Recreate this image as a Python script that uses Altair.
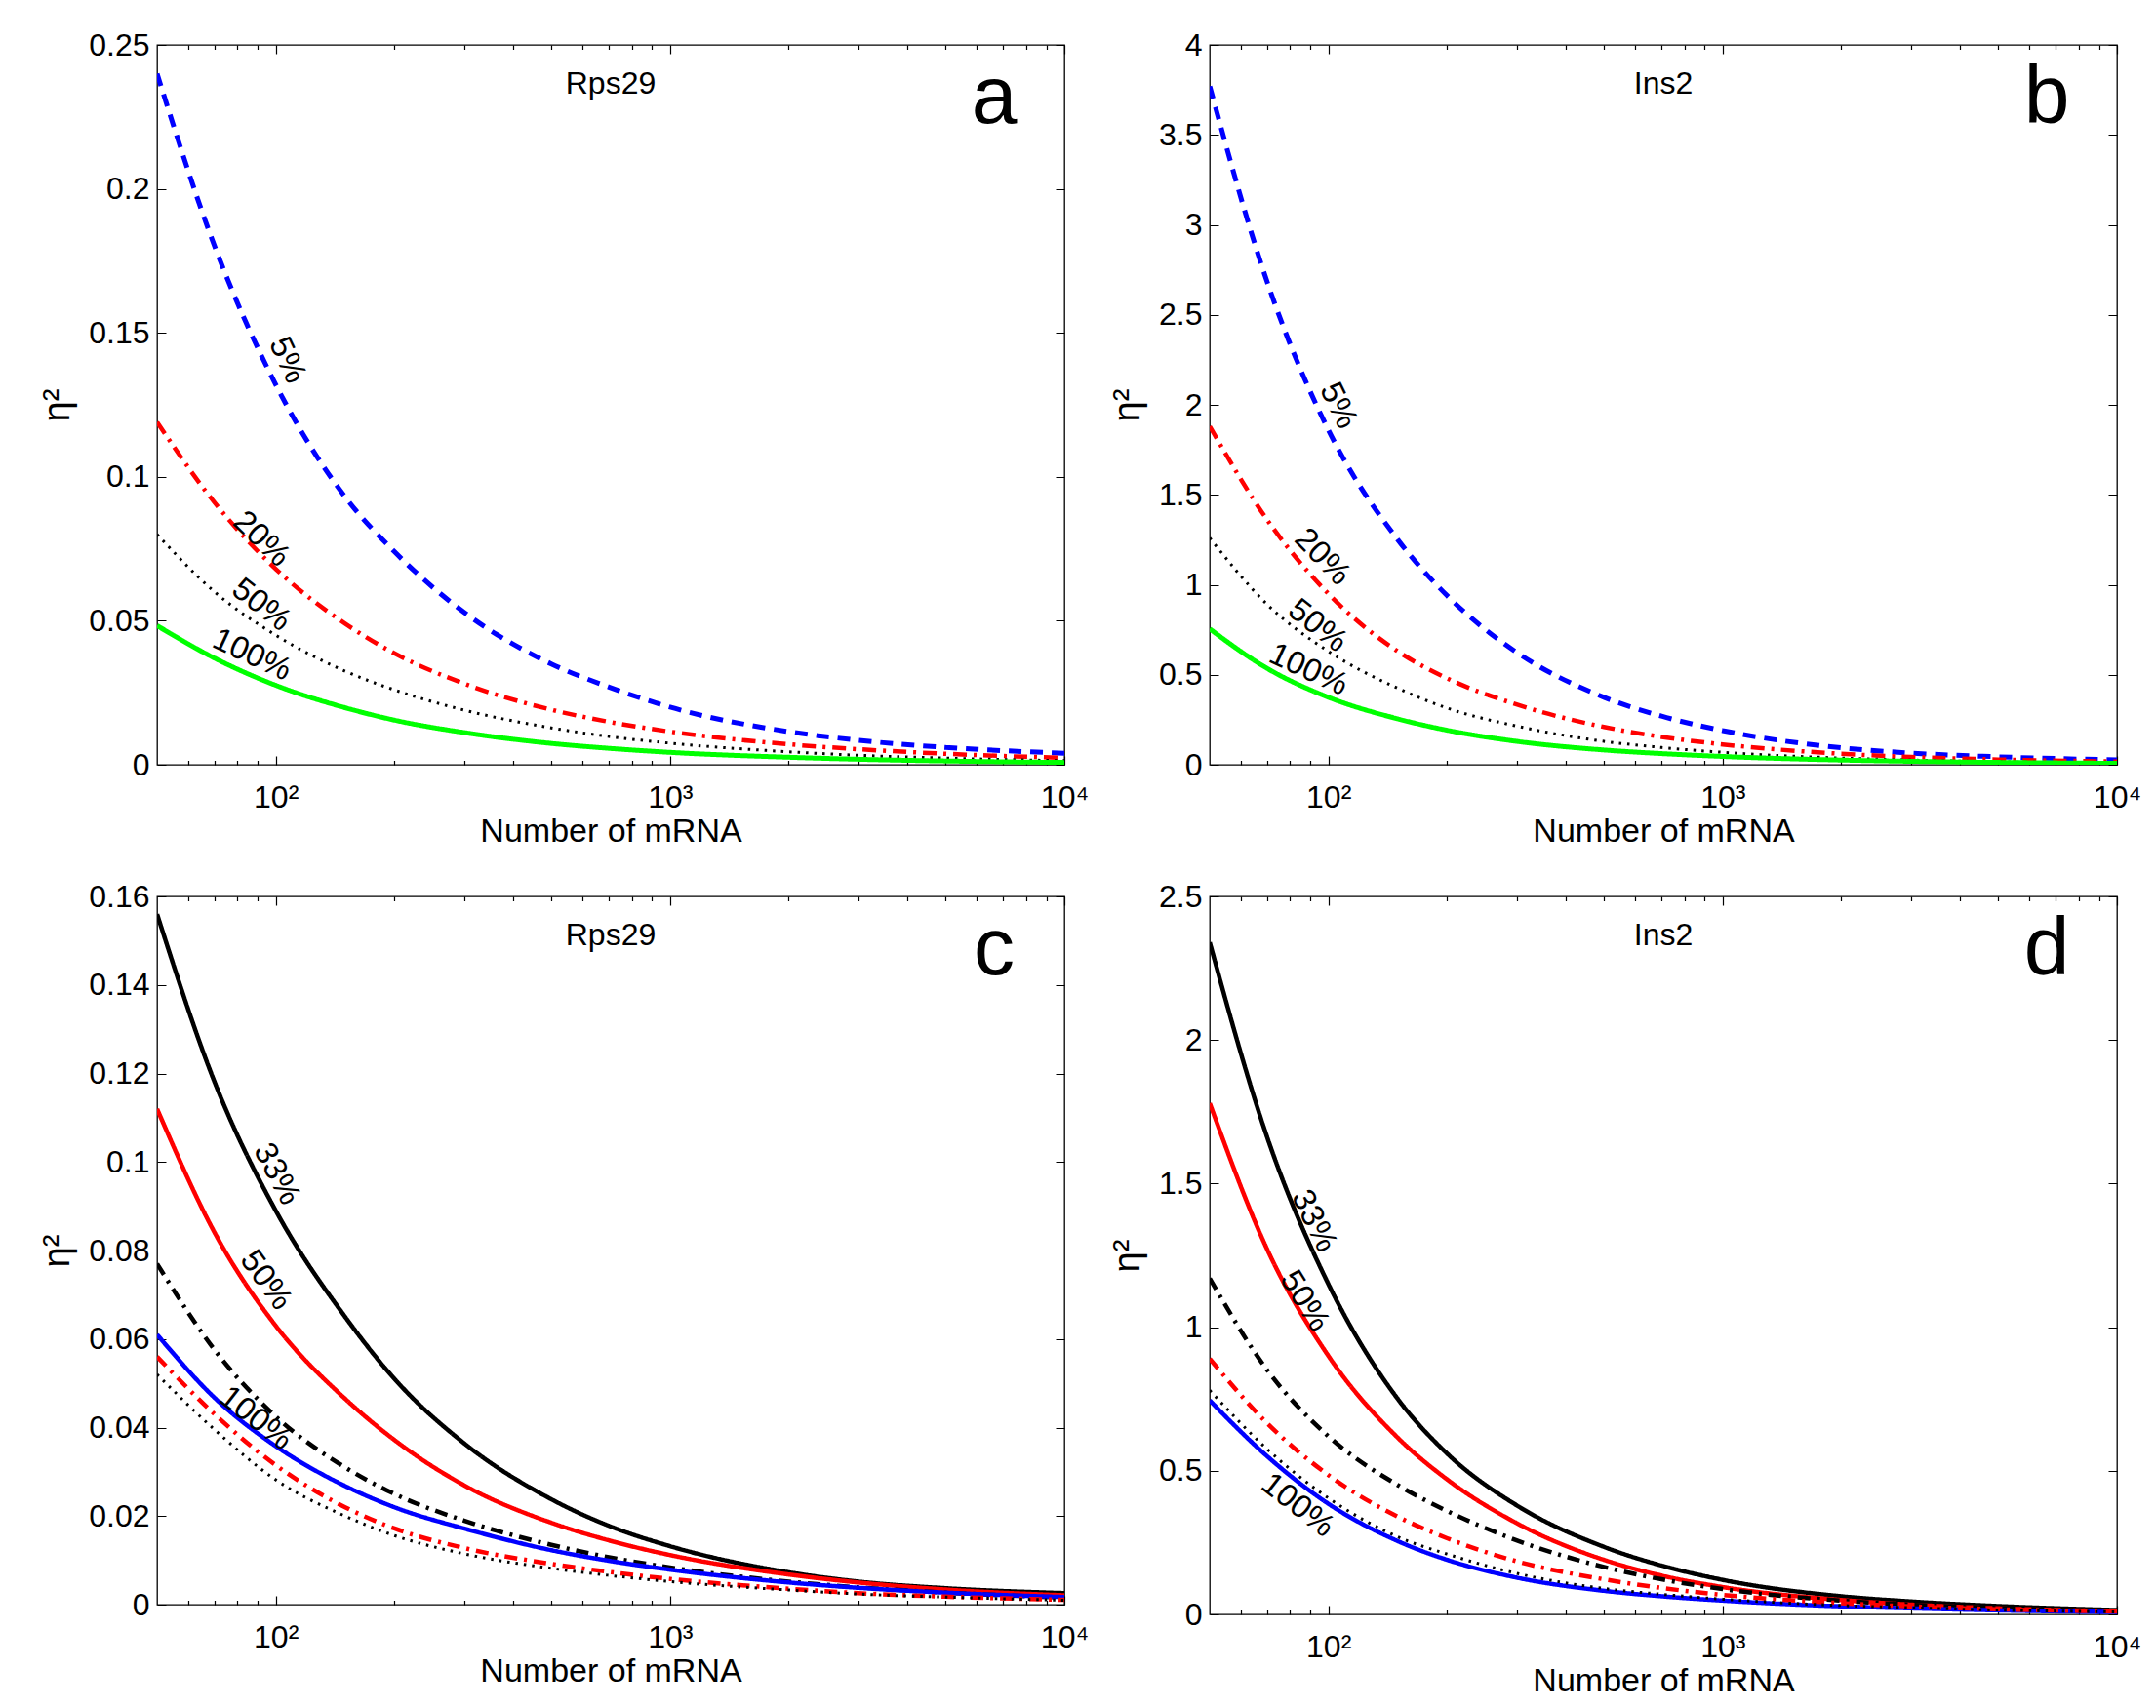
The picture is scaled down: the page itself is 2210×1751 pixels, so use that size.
import altair as alt
import pandas as pd

FONT = "Liberation Sans"

# ---------------- data ----------------
N_MRNA = [50, 70, 100, 150, 200, 300, 500, 700, 1000, 2000, 3000, 5000, 10000]

# panel a  (Rps29)
A_5 = [0.240, 0.180, 0.132, 0.093, 0.074, 0.053, 0.035, 0.027, 0.020, 0.0115, 0.0085, 0.0060, 0.0040]
A_20 = [0.119, 0.091, 0.068, 0.049, 0.0387, 0.0282, 0.0191, 0.0149, 0.0115, 0.0071, 0.0054, 0.0038, 0.0024]
A_50 = [0.080, 0.060, 0.045, 0.0325, 0.026, 0.019, 0.0128, 0.0098, 0.0075, 0.0045, 0.0033, 0.0023, 0.0014]
A_100 = [0.0483, 0.037, 0.0276, 0.0198, 0.0155, 0.0112, 0.0074, 0.0057, 0.0043, 0.0026, 0.0019, 0.0013, 0.0008]

# panel b  (Ins2)
B_5 = [3.77, 2.68, 1.86, 1.25, 0.94, 0.625, 0.375, 0.27, 0.19, 0.094, 0.065, 0.044, 0.027]
B_20 = [1.88, 1.36, 0.95, 0.63, 0.48, 0.335, 0.21, 0.155, 0.113, 0.061, 0.043, 0.029, 0.018]
B_50 = [1.26, 0.89, 0.63, 0.425, 0.315, 0.215, 0.13, 0.096, 0.069, 0.037, 0.026, 0.017, 0.010]
B_100 = [0.755, 0.535, 0.375, 0.255, 0.192, 0.13, 0.082, 0.062, 0.046, 0.026, 0.019, 0.013, 0.008]

# panel c  (Rps29)
C_33 = [0.156, 0.118, 0.089, 0.065, 0.051, 0.0365, 0.0238, 0.0178, 0.0132, 0.0073, 0.0052, 0.0037, 0.0026]
C_50 = [0.112, 0.084, 0.063, 0.0465, 0.0372, 0.027, 0.0185, 0.0145, 0.0112, 0.0068, 0.0050, 0.0034, 0.0021]
C_DASHDOT_BLACK = [0.077, 0.0575, 0.0425, 0.031, 0.025, 0.019, 0.0135, 0.0107, 0.0084, 0.0052, 0.0039, 0.0027, 0.0016]
C_100 = [0.061, 0.0467, 0.0358, 0.0268, 0.022, 0.0172, 0.0123, 0.0099, 0.0079, 0.0050, 0.0038, 0.0027, 0.0017]
C_DASHDOT_RED = [0.056, 0.043, 0.0315, 0.022, 0.0172, 0.0128, 0.0092, 0.0074, 0.0058, 0.0036, 0.0026, 0.0018, 0.0011]
C_DOTTED = [0.052, 0.0395, 0.0282, 0.020, 0.0156, 0.0115, 0.0082, 0.0066, 0.0052, 0.0033, 0.0024, 0.0017, 0.0010]

# panel d  (Ins2)
D_33 = [2.34, 1.66, 1.15, 0.75, 0.56, 0.38, 0.235, 0.17, 0.12, 0.063, 0.045, 0.029, 0.015]
D_50 = [1.78, 1.27, 0.90, 0.615, 0.47, 0.318, 0.19, 0.135, 0.095, 0.050, 0.034, 0.021, 0.011]
D_DASHDOT_BLACK = [1.17, 0.85, 0.62, 0.45, 0.36, 0.258, 0.165, 0.122, 0.088, 0.048, 0.034, 0.022, 0.012]
D_DASHDOT_RED = [0.89, 0.665, 0.485, 0.34, 0.265, 0.185, 0.122, 0.092, 0.068, 0.039, 0.028, 0.018, 0.010]
D_DOTTED = [0.78, 0.575, 0.405, 0.27, 0.21, 0.143, 0.09, 0.07, 0.053, 0.031, 0.023, 0.015, 0.0085]
D_100 = [0.745, 0.55, 0.385, 0.255, 0.19, 0.128, 0.082, 0.063, 0.048, 0.028, 0.021, 0.014, 0.008]

# in-plot curve labels
LAB_AB_TEXT = ["5%", "20%", "50%", "100%"]
LAB_A_N = [107, 92, 92, 87]
LAB_A_ETA = [0.1405, 0.0784, 0.0555, 0.0382]
LAB_A_ANGLE = [65, 44, 38, 25]
LAB_B_N = [106, 96.6, 94, 89]
LAB_B_ETA = [1.996, 1.155, 0.772, 0.528]
LAB_B_ANGLE = [64, 46, 38, 25]
LAB_CD_TEXT = ["33%", "50%", "100%"]
LAB_C_N = [100.7, 94.5, 89]
LAB_C_ETA = [0.0973, 0.0733, 0.0421]
LAB_C_ANGLE = [62, 54, 38]
LAB_D_N = [92, 87, 83.6]
LAB_D_ETA = [1.37, 1.091, 0.38]
LAB_D_ANGLE = [64, 58, 38]

Y_TICKS_A = [0, 0.05, 0.1, 0.15, 0.2, 0.25]
Y_TICKS_B = [0, 0.5, 1, 1.5, 2, 2.5, 3, 3.5, 4]
Y_TICKS_C = [0, 0.02, 0.04, 0.06, 0.08, 0.1, 0.12, 0.14, 0.16]
Y_TICKS_D = [0, 0.5, 1, 1.5, 2, 2.5]
X_TICKS = [60, 70, 80, 90, 100, 200, 300, 400, 500, 600, 700, 800, 900,
           1000, 2000, 3000, 4000, 5000, 6000, 7000, 8000, 9000, 10000]

# ---------------- styling ----------------
W = 930
MAJOR_TEST = "datum.value == 100 || datum.value == 1000 || datum.value == 10000"
X_LABEL_EXPR = ("datum.value == 100 ? '10²' : datum.value == 1000 ? '10³' : "
                "datum.value == 10000 ? '10⁴' : ''")

STYLE_AB = {
    "names": ["5%", "20%", "50%", "100%"],
    "colors": ["#0000ff", "#ff0000", "#000000", "#00ff00"],
    "dashes": [[13, 9], [14, 7, 3, 7], [2.5, 6], [1, 0]],
    "widths": [5, 4.5, 3, 5],
}
STYLE_CD = {
    "names": ["33% solid", "50% solid", "dash-dot black", "100% solid", "dash-dot red", "dotted black"],
    "colors": ["#000000", "#ff0000", "#000000", "#0000ff", "#ff0000", "#000000"],
    "dashes": [[1, 0], [1, 0], [13, 7, 3, 7], [1, 0], [13, 7, 3, 7], [2.5, 6]],
    "widths": [4.5, 4.5, 4.5, 4.5, 4.5, 3],
}


def make_panel(style, series_values, lab_text, lab_n, lab_eta, lab_angle,
               ymax, yticks, title, letter, H):
    rows = []
    for name, vals in zip(style["names"], series_values):
        for n, v in zip(N_MRNA, vals):
            rows.append({"N": n, "eta": v, "series": name})
    df = pd.DataFrame(rows)
    labdf = pd.DataFrame({"N": lab_n, "eta": lab_eta, "label": lab_text, "angle": lab_angle})

    xscale = alt.Scale(type="log", domain=[50, 10000], nice=False)
    yscale = alt.Scale(domain=[0, ymax], nice=False)

    xaxis = alt.Axis(
        values=X_TICKS, labelExpr=X_LABEL_EXPR, title="Number of mRNA",
        grid=True, gridColor="black", gridWidth=1.2, gridOpacity=1,
        gridDash={"condition": {"test": MAJOR_TEST, "value": [9, H - 18, 9, 4000]},
                  "value": [4.5, H - 9, 4.5, 4000]},
        ticks=False, domain=False,
        labelPadding=18, labelFontSize=32, labelFont=FONT, labelColor="black",
        labelFlush=False, labelOverlap=False,
        titleFontSize=34, titleFont=FONT, titleFontWeight="normal",
        titleColor="black", titlePadding=2,
    )
    yaxis = alt.Axis(
        values=yticks, format="~g", title="η²",
        grid=True, gridColor="black", gridWidth=1.2, gridOpacity=1,
        gridDash=[9, W - 18, 9, 4000],
        ticks=False, domain=False,
        labelPadding=8, labelFontSize=32, labelFont=FONT, labelColor="black",
        labelFlush=False, labelOverlap=False,
        titleFontSize=38, titleFont=FONT, titleFontWeight="normal",
        titleColor="black", titlePadding=12,
    )

    lines = alt.Chart(df).mark_line(interpolate="monotone", clip=True).encode(
        x=alt.X("N:Q", scale=xscale, axis=xaxis),
        y=alt.Y("eta:Q", scale=yscale, axis=yaxis),
        color=alt.Color("series:N", scale=alt.Scale(domain=style["names"], range=style["colors"]), legend=None),
        strokeDash=alt.StrokeDash("series:N", scale=alt.Scale(domain=style["names"], range=style["dashes"]), legend=None),
        strokeWidth=alt.StrokeWidth("series:N", scale=alt.Scale(type="ordinal", domain=style["names"], range=style["widths"]), legend=None),
    )
    labels = alt.Chart(labdf).mark_text(
        font=FONT, fontSize=33, align="center", baseline="middle", color="black"
    ).encode(
        x=alt.X("N:Q", scale=xscale, axis=xaxis),
        y=alt.Y("eta:Q", scale=yscale, axis=yaxis),
        text="label:N",
        angle=alt.Angle("angle:Q", scale=None),
    )
    ttl = alt.Chart(pd.DataFrame({"t": [title]})).mark_text(
        font=FONT, fontSize=32, align="center", baseline="alphabetic", color="black"
    ).encode(x=alt.value(W / 2), y=alt.value(50), text="t:N")
    let = alt.Chart(pd.DataFrame({"t": [letter]})).mark_text(
        font=FONT, fontSize=84, align="center", baseline="alphabetic", color="black"
    ).encode(x=alt.value(858), y=alt.value(80), text="t:N")

    return alt.layer(lines, labels, ttl, let).properties(width=W, height=H)


pa = make_panel(STYLE_AB, [A_5, A_20, A_50, A_100], LAB_AB_TEXT, LAB_A_N, LAB_A_ETA, LAB_A_ANGLE,
                0.25, Y_TICKS_A, "Rps29", "a", 738)
pb = make_panel(STYLE_AB, [B_5, B_20, B_50, B_100], LAB_AB_TEXT, LAB_B_N, LAB_B_ETA, LAB_B_ANGLE,
                4, Y_TICKS_B, "Ins2", "b", 738)
pc = make_panel(STYLE_CD, [C_33, C_50, C_DASHDOT_BLACK, C_100, C_DASHDOT_RED, C_DOTTED],
                LAB_CD_TEXT, LAB_C_N, LAB_C_ETA, LAB_C_ANGLE,
                0.16, Y_TICKS_C, "Rps29", "c", 726)
pd_ = make_panel(STYLE_CD, [D_33, D_50, D_DASHDOT_BLACK, D_100, D_DASHDOT_RED, D_DOTTED],
                 LAB_CD_TEXT, LAB_D_N, LAB_D_ETA, LAB_D_ANGLE,
                 2.5, Y_TICKS_D, "Ins2", "d", 736)

IND = dict(x="independent", y="independent", color="independent",
           strokeDash="independent", strokeWidth="independent")

top = alt.hconcat(pa, pb, spacing=19).resolve_scale(**IND)
bottom = alt.hconcat(pc, pd_, spacing=19).resolve_scale(**IND)

chart = alt.vconcat(top, bottom, spacing=32).resolve_scale(**IND).properties(
    padding={"left": 32, "top": 21, "right": 5, "bottom": 5}
).configure(background="white").configure_view(stroke="black", strokeWidth=1.3)

chart.save("out.html", embed_options={"renderer": "svg", "actions": False})
